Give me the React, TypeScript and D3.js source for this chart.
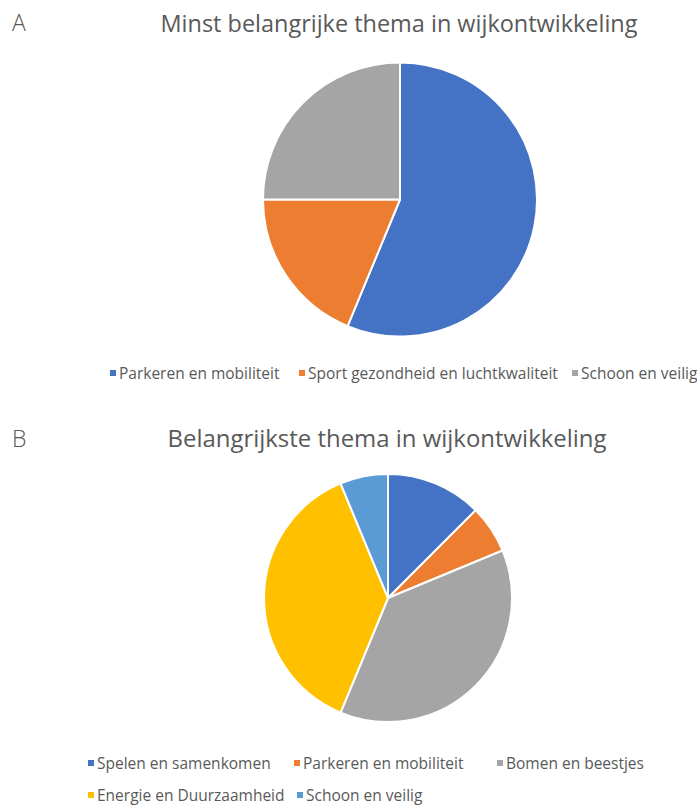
import React, { useEffect } from "react";
import * as d3 from "d3";

// Chart A data
const categoriesA = ["Parkeren en mobiliteit", "Sport gezondheid en luchtkwaliteit", "Schoon en veilig"];
const valuesA = [9, 3, 4];
const colorsA = ["#4472C4", "#ED7D31", "#A5A5A5"];
const titleA = "Minst belangrijke thema in wijkontwikkeling";

// Chart B data
const categoriesB = ["Spelen en samenkomen", "Parkeren en mobiliteit", "Bomen en beestjes", "Energie en Duurzaamheid", "Schoon en veilig"];
const valuesB = [2, 1, 6, 6, 1];
const colorsB = ["#4472C4", "#ED7D31", "#A5A5A5", "#FFC000", "#5B9BD5"];
const titleB = "Belangrijkste thema in wijkontwikkeling";

const FONT = "'Open Sans', sans-serif";
const TEXT = "#595959";

function Pie({ values, colors, cx, cy, r }: { values: number[]; colors: string[]; cx: number; cy: number; r: number }) {
  const pie = d3.pie<number>().sort(null).value((d) => d).startAngle(0).endAngle(2 * Math.PI);
  const arc = d3.arc<d3.PieArcDatum<number>>().innerRadius(0).outerRadius(r);
  const arcs = pie(values);
  return (
    <g transform={`translate(${cx},${cy})`}>
      {arcs.map((a, i) => (
        <path key={i} d={arc(a) || ""} fill={colors[i]} stroke="#ffffff" strokeWidth={2} strokeLinejoin="round" />
      ))}
    </g>
  );
}

function Legend({ labels, colors, positions, fontSize }: { labels: string[]; colors: string[]; positions: [number, number][]; fontSize: number }) {
  return (
    <g>
      {labels.map((l, i) => {
        const [x, y] = positions[i];
        return (
          <g key={i}>
            <rect x={x - 3} y={y - 3} width={6} height={6} fill={colors[i]} />
            <text x={x + 6} y={y} dominantBaseline="central" fontFamily={FONT} fontSize={fontSize} fill={TEXT}>
              {l}
            </text>
          </g>
        );
      })}
    </g>
  );
}

export default function App() {
  useEffect(() => {
    document.body.style.margin = "0";
  }, []);
  const legendAPos: [number, number][] = [[113, 373], [302, 373], [575, 373]];
  const legendBPos: [number, number][] = [[91, 763], [297, 763], [500, 763], [91, 795], [300, 795]];
  return (
    <svg width={697} height={806} style={{ position: "absolute", left: 0, top: 0, background: "#ffffff" }}>
      <rect x={0} y={0} width={697} height={806} fill="#ffffff" />
      <text x={12} y={31} fontFamily={FONT} fontWeight={300} fontSize={23} fill={TEXT}>A</text>
      <text x={12} y={447} fontFamily={FONT} fontWeight={300} fontSize={23} fill={TEXT}>B</text>

      <text x={399} y={32} textAnchor="middle" fontFamily={FONT} fontSize={24} fill={TEXT} textLength={477} lengthAdjust="spacingAndGlyphs">
        {titleA}
      </text>
      <Pie values={valuesA} colors={colorsA} cx={400} cy={199.5} r={137} />
      <Legend labels={categoriesA} colors={colorsA} positions={legendAPos} fontSize={15.5} />

      <text x={387} y={447} textAnchor="middle" fontFamily={FONT} fontSize={24} fill={TEXT} textLength={439} lengthAdjust="spacingAndGlyphs">
        {titleB}
      </text>
      <Pie values={valuesB} colors={colorsB} cx={388} cy={598} r={124} />
      <Legend labels={categoriesB} colors={colorsB} positions={legendBPos} fontSize={15.5} />
    </svg>
  );
}
